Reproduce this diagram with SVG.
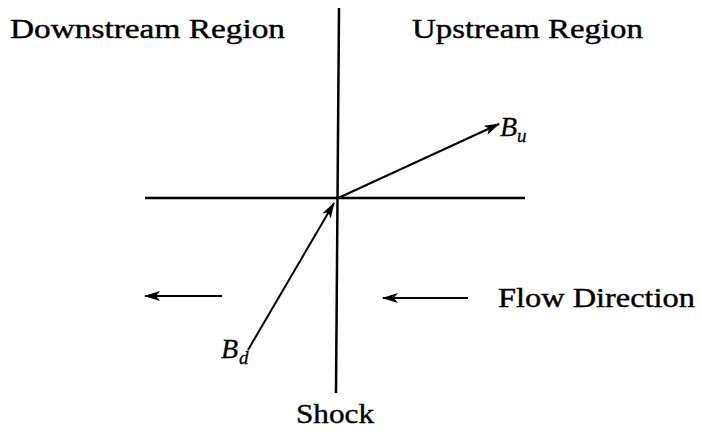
<svg xmlns="http://www.w3.org/2000/svg" width="702" height="432" viewBox="0 0 702 432">
<defs>
<marker id="ah" viewBox="0 0 16 10" refX="15" refY="5" markerWidth="16" markerHeight="10" markerUnits="userSpaceOnUse" orient="auto">
<path d="M0,0 L16,5 L0,10 L4,5 Z" fill="#000"/>
</marker>
<style>
.ln{stroke:#000;stroke-width:2.5;fill:none}
.ar{stroke:#000;stroke-width:2;fill:none;marker-end:url(#ah)}
.t{font-family:"Liberation Serif","DejaVu Serif",serif;font-size:27px;fill:#000;stroke:#000;stroke-width:0.4}
.m{font-family:"Liberation Serif","DejaVu Serif",serif;font-style:italic;font-size:28px;fill:#000;stroke:#000;stroke-width:0.3}
.s{font-family:"Liberation Serif","DejaVu Serif",serif;font-style:italic;font-size:19px;fill:#000;stroke:#000;stroke-width:0.3}
</style>
</defs>
<rect width="702" height="432" fill="#fff"/>
<g id="axes">
<line id="shock-line" class="ln" x1="339" y1="8" x2="336" y2="393"/>
<line id="horizontal" class="ln" x1="145" y1="198" x2="525" y2="198"/>
</g>
<g id="connectors">
<line id="Bu-arrow" class="ar" x1="336" y1="199" x2="499" y2="124"/>
<line id="Bd-arrow" class="ar" x1="248" y1="350" x2="334" y2="203"/>
<line id="flow-left" class="ar" x1="222" y1="296" x2="145" y2="296"/>
<line id="flow-right" class="ar" x1="468" y1="298" x2="383" y2="298"/>
</g>
<g id="downstream"><text class="t" x="10" y="38" textLength="275" lengthAdjust="spacingAndGlyphs">Downstream Region</text></g>
<g id="upstream"><text class="t" x="412" y="38" textLength="231" lengthAdjust="spacingAndGlyphs">Upstream Region</text></g>
<g id="Bu"><text class="m" x="500" y="136">B</text><text class="s" x="517" y="142">u</text></g>
<g id="Bd"><text class="m" x="221" y="358">B</text><text class="s" x="239" y="364">d</text></g>
<g id="flow"><text class="t" x="498" y="307" textLength="197" lengthAdjust="spacingAndGlyphs">Flow Direction</text></g>
<g id="shock"><text class="t" x="296" y="423" textLength="78" lengthAdjust="spacingAndGlyphs">Shock</text></g>
</svg>
